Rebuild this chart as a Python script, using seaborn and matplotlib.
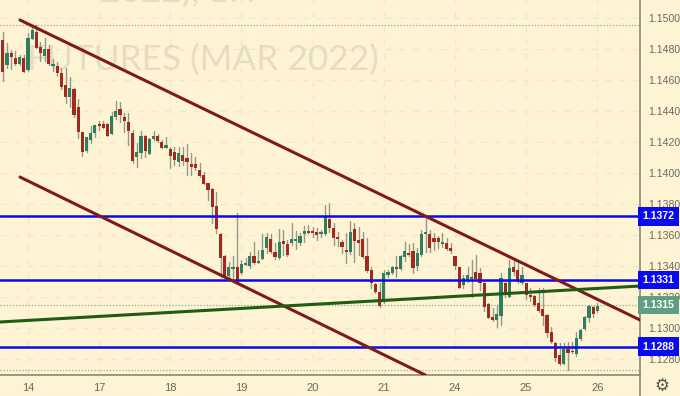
import numpy as np
import pandas as pd
import seaborn as sns
import matplotlib.pyplot as plt

# OHLC of the hourly candles, in 1/100000 of a point
opens = [114858, 114695, 114772, 114740, 114705, 114740, 114667, 114864, 114910, 114813,
         114755, 114800, 114690, 114690, 114647, 114570, 114492, 114542, 114424, 114265,
         114144, 114215, 114260, 114316, 114316, 114316, 114252, 114363, 114411, 114359,
         114327, 114256, 114101, 114131, 114237, 114125, 114217, 114239, 114200, 114164,
         114157, 114136, 114071, 114116, 114097, 114058, 114056, 114019, 113989, 113936,
         113895, 113787, 113607, 113467, 113338, 113379, 113392, 113353, 113409, 113401,
         113465, 113422, 113448, 113514, 113572, 113493, 113450, 113564, 113544, 113551,
         113562, 113551, 113605, 113626, 113626, 113618, 113605, 113605, 113703, 113648,
         113587, 113555, 113506, 113491, 113639, 113568, 113577, 113465, 113375, 113284,
         113233, 113166, 113342, 113353, 113394, 113383, 113460, 113482, 113495, 113401,
         113469, 113607, 113607, 113581, 113579, 113543, 113547, 113517, 113465, 113396,
         113280, 113306, 113316, 113364, 113353, 113293, 113155, 113071, 113050, 113078,
         113289, 113202, 113396, 113375, 113293, 113289, 113213, 113207, 113164, 113123,
         113082, 112975, 112902, 112826, 112770, 112865, 112854, 112831, 112927, 112992,
         113067, 113134, 113110]
closes = [114654, 114772, 114746, 114705, 114748, 114654, 114869, 114922, 114809, 114776,
          114802, 114703, 114703, 114643, 114555, 114492, 114546, 114374, 114262, 114136,
          114232, 114256, 114308, 114305, 114293, 114241, 114368, 114400, 114376, 114333,
          114273, 114078, 114136, 114237, 114142, 114219, 114239, 114204, 114164, 114181,
          114112, 114082, 114127, 114078, 114071, 114041, 114030, 113983, 113931, 113890,
          113783, 113641, 113450, 113332, 113396, 113390, 113299, 113415, 113422, 113465,
          113422, 113428, 113502, 113587, 113493, 113456, 113555, 113542, 113469, 113577,
          113566, 113596, 113626, 113615, 113615, 113602, 113609, 113714, 113648, 113583,
          113572, 113521, 113491, 113618, 113564, 113551, 113460, 113370, 113288, 113233,
          113145, 113353, 113364, 113392, 113383, 113465, 113495, 113469, 113390, 113482,
          113607, 113611, 113519, 113553, 113553, 113553, 113510, 113499, 113400, 113261,
          113325, 113342, 113321, 113316, 113289, 113138, 113067, 113052, 113091, 113323,
          113211, 113387, 113362, 113299, 113342, 113211, 113202, 113149, 113110, 113080,
          112970, 112908, 112809, 112768, 112865, 112837, 112843, 112934, 112985, 113074,
          113142, 113089, 113142]
highs = [114907, 114836, 114793, 114789, 114761, 114761, 114901, 114955, 114955, 114847,
         114869, 114826, 114733, 114716, 114675, 114675, 114621, 114546, 114475, 114267,
         114234, 114303, 114310, 114338, 114338, 114320, 114396, 114467, 114456, 114385,
         114389, 114277, 114191, 114273, 114245, 114224, 114273, 114252, 114213, 114234,
         114170, 114170, 114170, 114170, 114187, 114127, 114105, 114062, 114009, 113938,
         113901, 113880, 113611, 113471, 113428, 113465, 113744, 113439, 113450, 113493,
         113557, 113504, 113605, 113615, 113605, 113547, 113637, 113633, 113568, 113675,
         113628, 113611, 113660, 113665, 113650, 113643, 113633, 113794, 113805, 113675,
         113622, 113568, 113611, 113693, 113675, 113654, 113622, 113579, 113396, 113288,
         113293, 113375, 113375, 113400, 113467, 113471, 113557, 113540, 113547, 113514,
         113633, 113708, 113633, 113611, 113594, 113611, 113579, 113547, 113465, 113396,
         113342, 113396, 113439, 113471, 113385, 113299, 113159, 113127, 113149, 113353,
         113299, 113439, 113439, 113428, 113396, 113293, 113256, 113213, 113261, 113256,
         113091, 113009, 112912, 112902, 112906, 112912, 112912, 112977, 112992, 113078,
         113149, 113142, 113164]
lows = [114594, 114675, 114671, 114697, 114697, 114649, 114658, 114862, 114809, 114723,
        114723, 114697, 114660, 114626, 114540, 114449, 114428, 114363, 114224, 114110,
        114138, 114191, 114234, 114277, 114288, 114239, 114250, 114351, 114331, 114267,
        114181, 114062, 114037, 114095, 114105, 114123, 114213, 114202, 114159, 114159,
        114030, 114052, 114045, 114052, 113987, 113987, 114019, 113976, 113929, 113826,
        113675, 113611, 113332, 113321, 113310, 113321, 113288, 113349, 113407, 113390,
        113414, 113418, 113444, 113482, 113482, 113445, 113445, 113471, 113465, 113536,
        113508, 113536, 113557, 113611, 113590, 113568, 113585, 113600, 113622, 113536,
        113532, 113482, 113418, 113476, 113428, 113471, 113450, 113364, 113261, 113224,
        113138, 113159, 113327, 113347, 113327, 113375, 113433, 113467, 113353, 113375,
        113467, 113493, 113493, 113504, 113515, 113525, 113504, 113486, 113379, 113256,
        113256, 113295, 113198, 113310, 113245, 113110, 113063, 113048, 113009, 113020,
        113198, 113198, 113342, 113293, 113284, 113185, 113177, 113142, 113106, 113020,
        112945, 112902, 112790, 112762, 112766, 112730, 112837, 112822, 112923, 112988,
        113041, 113074, 113104]

day_labels = ["14", "17", "18", "19", "20", "21", "24", "25", "26"]
day_candles = [6, 23, 40, 57, 74, 91, 108, 125, 142]
price_ticks = [1.15, 1.148, 1.146, 1.144, 1.142, 1.14, 1.138, 1.136, 1.134, 1.132, 1.13, 1.128]

# drawn levels and trend lines: (candle number, price)
levels = [1.1372, 1.1331, 1.1288]
upper_channel = ([4.11, 152.2], [1.14987, 1.13052])
lower_channel = ([4.11, 100.9], [1.13974, 1.12697])
green_trend = ([-0.67, 152.2], [1.13039, 1.13271])
last_price = 1.1315
chart_high = 1.14955
chart_low = 1.12730

BG = "#FEF3D2"
RED = "#A02A1E"
GREEN = "#2E7F62"

sns.set_theme(style="white", rc={"font.family": ["Liberation Sans", "DejaVu Sans"]})

o = np.array(opens) / 1e5
c = np.array(closes) / 1e5
h = np.array(highs) / 1e5
l = np.array(lows) / 1e5
idx = np.arange(len(o))

wicks = pd.DataFrame({
    "candle": np.r_[idx, idx],
    "price": np.r_[h, l],
})

fig = plt.figure(figsize=(6.8, 3.96), dpi=100, facecolor=BG)
ax = fig.add_axes([0, 21 / 396, 640 / 680, 375 / 396], facecolor=BG)

ax.set_xticks(day_candles, day_labels)
ax.set_yticks(price_ticks, [f"{p:.4f}" for p in price_ticks])
ax.grid(True, color="#E9E6DA", lw=0.9, ls=(0, (5, 6)), zorder=0)
ax.set_axisbelow(True)

# big watermark, cut by the top edge
ax.text(27 / 640, 0.813, "FUTURES (MAR 2022)", transform=ax.transAxes, fontsize=25.4,
        family="Lato", color="#E6DCC2", va="baseline", zorder=1)
ax.text(256 / 640, 0.996, "2022), 1H", transform=ax.transAxes, fontsize=25.4, ha="right",
        family="Lato", color="#E6DCC2", va="baseline", zorder=1, clip_on=True)

# dotted lines at the visible high, low and last price
ax.axhline(chart_high, color="#A9A697", lw=0.9, ls=(0, (1, 1.5)), zorder=1)
ax.axhline(chart_low, color="#A9A697", lw=0.9, ls=(0, (1, 1.5)), zorder=1)
ax.axhline(last_price, color="#8FB08F", lw=0.9, ls=(0, (1, 1.5)), zorder=1)

sns.lineplot(data=wicks, x="candle", y="price", units="candle", estimator=None,
             color="#96988A", lw=1, ax=ax, zorder=2)
body_colors = [GREEN if b >= a else RED for a, b in zip(o, c)]
body_h = np.maximum(np.abs(c - o), 0.00012)
ax.bar(idx, body_h, bottom=np.minimum(o, c), width=0.76, color=body_colors, lw=0, zorder=3)

for lvl in levels:
    ax.axhline(lvl, color="#0A0AE6", lw=1.8, zorder=4)
    ax.text(1.004, lvl, f"{lvl:.4f}", transform=ax.get_yaxis_transform(), color="white",
            fontsize=7.6, fontweight="bold", va="center", ha="left", zorder=6,
            bbox=dict(fc="#0A0AF0", ec="none", boxstyle="square,pad=0.4"))
ax.text(1.004, last_price, f"{last_price:.4f}", transform=ax.get_yaxis_transform(), color="white",
        fontsize=7.6, fontweight="bold", va="center", ha="left", zorder=6,
        bbox=dict(fc="#5E9E82", ec="none", boxstyle="square,pad=0.4"))

for xs, ys in (upper_channel, lower_channel):
    sns.lineplot(x=xs, y=ys, color="#7E1A1E", lw=2.2, ax=ax, zorder=5)
sns.lineplot(x=green_trend[0], y=green_trend[1], color="#1F5C14", lw=2.2, ax=ax, zorder=5)

ax.set_xlim(-0.669, 152.2)
ax.set_ylim(1.12697, 1.151161)
ax.set_xlabel("")
ax.set_ylabel("")
ax.yaxis.tick_right()
ax.tick_params(axis="y", length=0, pad=6, labelsize=7.6, labelcolor="#6A6A62")
ax.tick_params(axis="x", length=0, pad=6, labelsize=8, labelcolor="#6A6A62")
for side in ("top", "left"):
    ax.spines[side].set_visible(False)
for side in ("right", "bottom"):
    ax.spines[side].set_color("#8A8878")
    ax.spines[side].set_linewidth(1.2)
ax.axvline(ax.get_xlim()[1], ymin=-0.06, ymax=0, color="#8A8878", lw=1.2, clip_on=False)

fig.text(662 / 680, 1 - 386 / 396, "\u2699", family="DejaVu Sans", fontsize=12,
         color="#555550", ha="center", va="center")

fig.savefig("out.png", dpi=100, facecolor=BG)
